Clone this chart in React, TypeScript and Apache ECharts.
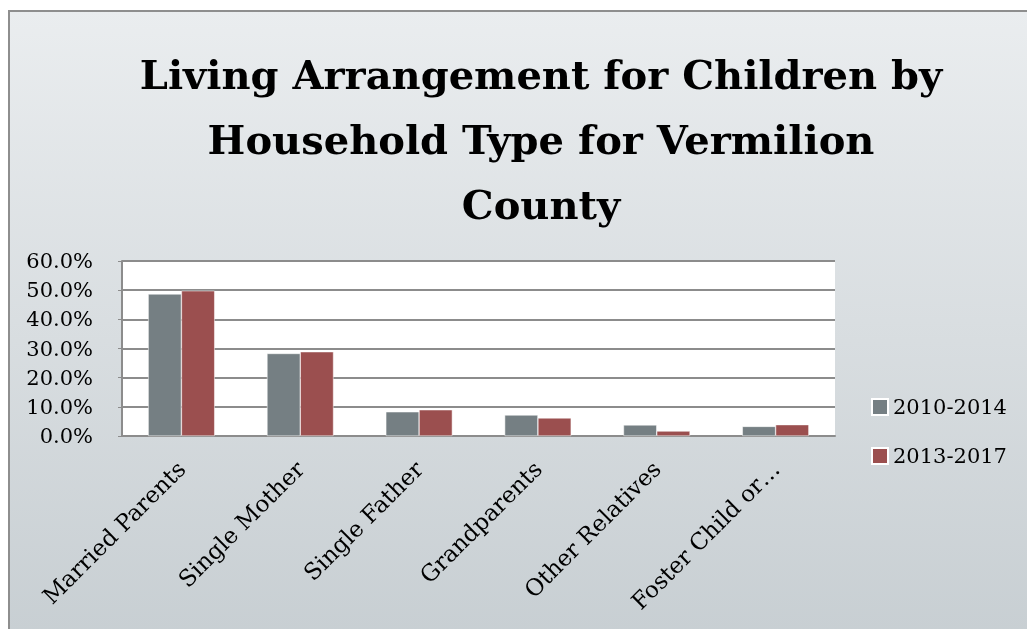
import React, { useEffect, useRef } from "react";
import * as echarts from "echarts";

const categories = ["Married Parents", "Single Mother", "Single Father", "Grandparents", "Other Relatives", "Foster Child or…"];
const seriesNames = ["2010-2014", "2013-2017"];
const values2010 = [48.7, 28.3, 8.3, 7.2, 3.8, 3.3];
const values2013 = [49.8, 28.9, 9.0, 6.2, 1.7, 3.9];
const titleText = "Living Arrangement for Children by\nHousehold Type for Vermilion\nCounty";
const yTicks = { min: 0, max: 60, interval: 10 };

const FONT = "'DejaVu Serif', serif";

export default function App() {
  const ref = useRef<HTMLDivElement>(null);
  useEffect(() => {
    if (!ref.current) return;
    const chart = echarts.init(ref.current, undefined, { renderer: "svg" });
    chart.setOption({
      animation: false,
      textStyle: { fontFamily: FONT },
      graphic: [
        {
          type: "rect",
          z: -10,
          silent: true,
          shape: { x: 9, y: 11, width: 1040, height: 640 },
          style: {
            fill: new echarts.graphic.LinearGradient(0, 0, 0, 1, [
              { offset: 0, color: "#eaedef" },
              { offset: 1, color: "#c7ced2" },
            ]),
            stroke: "#8e8e8e",
            lineWidth: 2,
          },
        },
      ],
      title: {
        text: titleText,
        left: 536,
        textAlign: "center",
        top: 37,
        textStyle: { fontFamily: FONT, fontSize: 40, fontWeight: "bold", color: "#000", lineHeight: 65 },
      },
      legend: {
        orient: "vertical",
        left: 866,
        top: 391,
        itemWidth: 16,
        itemHeight: 16,
        itemGap: 27,
        icon: "rect",
        data: seriesNames,
        textStyle: { fontFamily: FONT, fontSize: 21, color: "#000", lineHeight: 22 },
      },
      grid: {
        left: 122,
        top: 261,
        width: 713,
        height: 175,
        show: true,
        backgroundColor: "#ffffff",
        borderWidth: 0,
      },
      xAxis: {
        type: "category",
        data: categories,
        axisLine: { show: true, lineStyle: { color: "#8c8c8c", width: 2 } },
        axisTick: { show: false },
        axisLabel: {
          rotate: 45,
          interval: 0,
          margin: 29,
          fontFamily: FONT,
          fontSize: 23,
          color: "#000",
        },
      },
      yAxis: {
        type: "value",
        min: yTicks.min,
        max: yTicks.max,
        interval: yTicks.interval,
        axisLine: { show: true, lineStyle: { color: "#8c8c8c", width: 2 } },
        axisTick: { show: true, length: 4, lineStyle: { color: "#8c8c8c" } },
        splitLine: { show: true, lineStyle: { color: "#8c8c8c", width: 2 } },
        axisLabel: {
          margin: 29,
          fontFamily: FONT,
          fontSize: 21,
          color: "#000",
          formatter: (v: number) => v.toFixed(1) + "%",
        },
      },
      series: [
        {
          name: seriesNames[0],
          type: "bar",
          data: values2010,
          barGap: "0%",
          barCategoryGap: "44%",
          itemStyle: { color: "#757f83", borderColor: "#ffffff", borderWidth: 0.5 },
        },
        {
          name: seriesNames[1],
          type: "bar",
          data: values2013,
          itemStyle: { color: "#9b4f4f", borderColor: "#ffffff", borderWidth: 0.5 },
        },
      ],
    });
    return () => chart.dispose();
  }, []);
  return (
    <div
      ref={ref}
      style={{ position: "fixed", left: 0, top: 0, width: 1027, height: 629 }}
    />
  );
}
